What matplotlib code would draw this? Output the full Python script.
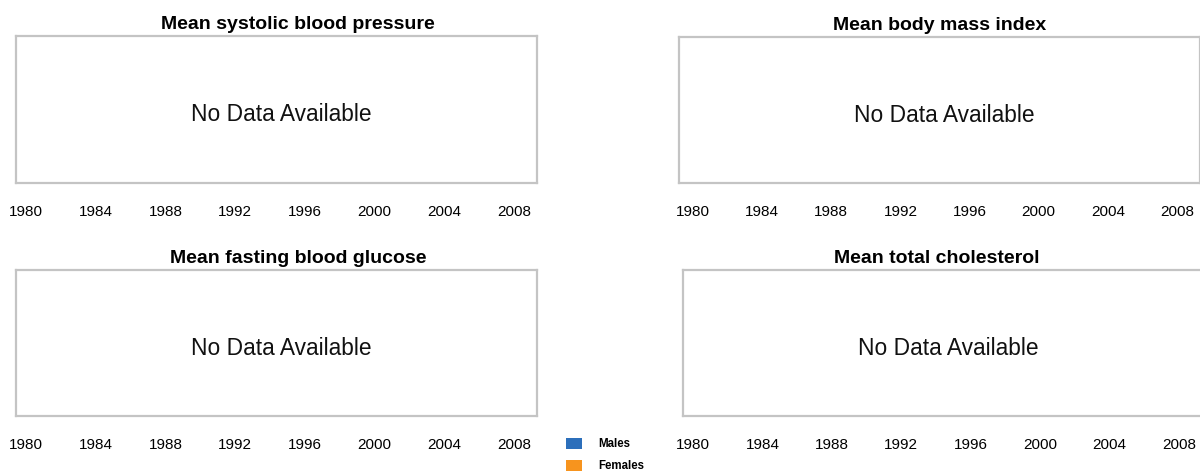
import matplotlib
matplotlib.use("Agg")
import matplotlib.pyplot as plt
from matplotlib.patches import Patch

plt.rcParams['font.family'] = ['Liberation Sans', 'DejaVu Sans']

# Datos del grafico (no hay datos disponibles en ningun panel)
titles = ['Mean systolic blood pressure', 'Mean body mass index',
          'Mean fasting blood glucose', 'Mean total cholesterol']
years = [1980, 1984, 1988, 1992, 1996, 2000, 2004, 2008]
series = ['Males', 'Females']
colors = ['#2c6fbb', '#f7941e']
message = 'No Data Available'

W, H = 1200, 471
fig = plt.figure(figsize=(W / 100, H / 100), dpi=100)

# caja en pixeles: izquierda, arriba, ancho, alto, x de 1980, x de 2008, x del titulo
boxes = [
    (16, 36, 521, 147, 26, 514, 298),
    (679, 37, 521, 146, 693, 1177, 940),
    (16, 270, 521, 146, 26, 514, 298),
    (683, 270, 521, 146, 693, 1179, 937),
]

for title, (l, t, w, h, x0, x1, xt) in zip(titles, boxes):
    ax = fig.add_axes([l / W, 1 - (t + h) / H, w / W, h / H])
    ppy = (x1 - x0) / (years[-1] - years[0])
    ax.set_xlim(years[0] - (x0 - l) / ppy, years[0] + (l + w - x0) / ppy)
    ax.set_ylim(0, 1)
    ax.set_xticks(years)
    ax.set_xticklabels([str(y) for y in years])
    ax.tick_params(axis='x', length=0, pad=15.5, labelsize=11)
    ax.set_yticks([])
    for s in ax.spines.values():
        s.set_color('#c4c4c4')
        s.set_linewidth(1.6)
    ax.set_title(title, fontsize=14, fontweight='bold',
                 x=(xt - l) / w, pad=5)
    ax.text(0.51, 0.465, message, transform=ax.transAxes,
            ha='center', va='center', fontsize=16.4, color='#111111')

handles = [Patch(facecolor=c, edgecolor='none') for c in colors]
leg = fig.legend(handles, series, loc='center', bbox_to_anchor=(605 / W, 1 - 455 / H),
                 frameon=False, prop={'weight': 'bold', 'size': 8.3},
                 handlelength=1.4, handleheight=1.2, handletextpad=1.4,
                 labelspacing=0.8)

fig.savefig('out.png', dpi=100)
